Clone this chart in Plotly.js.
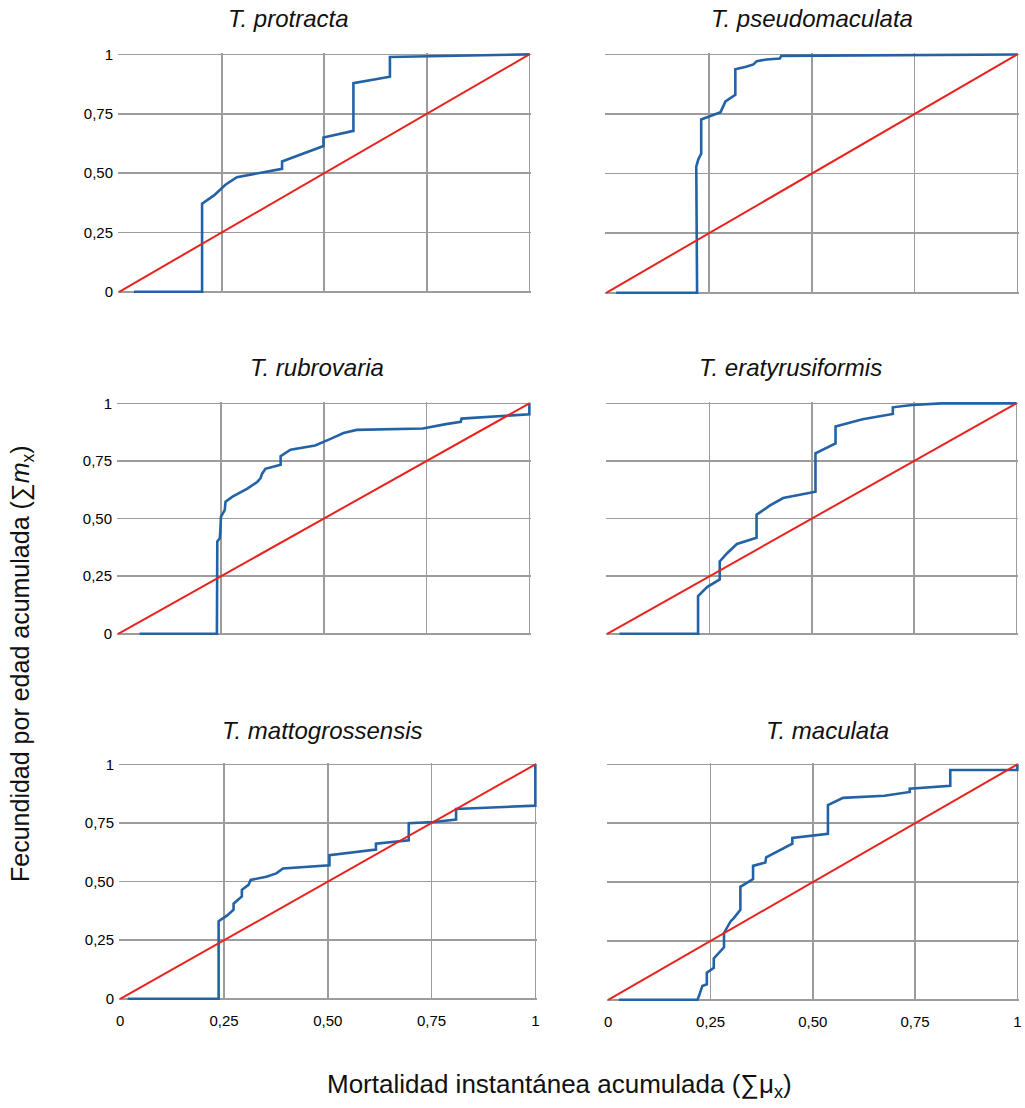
<!DOCTYPE html>
<html>
<head>
<meta charset="utf-8">
<script src="https://cdn.plot.ly/plotly-3.0.1.min.js"></script>
<style>
html,body{margin:0;padding:0;background:#fff;}
#chart{width:1025px;height:1108px;}
</style>
</head>
<body>
<div id="chart"></div>
<script>
// ---- Data ----
const species = ['T. protracta', 'T. pseudomaculata', 'T. rubrovaria', 'T. eratyrusiformis', 'T. mattogrossensis', 'T. maculata'];

const xProtracta = [0.036, 0.202, 0.202, 0.231, 0.259, 0.287, 0.397, 0.397, 0.498, 0.498, 0.571, 0.571, 0.660, 0.660, 1.0];
const yProtracta = [0, 0, 0.371, 0.406, 0.451, 0.483, 0.518, 0.549, 0.614, 0.650, 0.678, 0.879, 0.906, 0.989, 1.0];

const xPseudomaculata = [0.024, 0.221, 0.219, 0.224, 0.231, 0.231, 0.278, 0.290, 0.314, 0.314, 0.340, 0.358, 0.366, 0.390, 0.422, 0.426, 1.0];
const yPseudomaculata = [0, 0, 0.529, 0.560, 0.584, 0.727, 0.758, 0.803, 0.831, 0.938, 0.948, 0.958, 0.972, 0.979, 0.983, 0.994, 1.0];

const xRubrovaria = [0.052, 0.240, 0.241, 0.247, 0.248, 0.250, 0.259, 0.261, 0.278, 0.314, 0.338, 0.346, 0.350, 0.358, 0.395, 0.395, 0.419, 0.479, 0.515, 0.548, 0.580, 0.741, 0.797, 0.833, 0.835, 0.998, 1.0, 1.0];
const yRubrovaria = [0, 0, 0.401, 0.415, 0.437, 0.509, 0.537, 0.573, 0.595, 0.630, 0.659, 0.675, 0.695, 0.716, 0.734, 0.771, 0.799, 0.817, 0.845, 0.871, 0.885, 0.891, 0.910, 0.920, 0.934, 0.953, 0.953, 1.0];

const xEratyrusiformis = [0.030, 0.222, 0.222, 0.236, 0.244, 0.275, 0.275, 0.293, 0.317, 0.365, 0.365, 0.398, 0.430, 0.509, 0.509, 0.558, 0.558, 0.624, 0.698, 0.698, 0.745, 0.818, 1.0];
const yEratyrusiformis = [0, 0, 0.164, 0.190, 0.203, 0.236, 0.314, 0.350, 0.390, 0.417, 0.517, 0.557, 0.589, 0.617, 0.783, 0.826, 0.900, 0.931, 0.954, 0.983, 0.993, 1.0, 1.0];

const xMattogrossensis = [0.018, 0.237, 0.237, 0.257, 0.273, 0.273, 0.293, 0.293, 0.309, 0.314, 0.352, 0.376, 0.392, 0.504, 0.504, 0.616, 0.616, 0.695, 0.695, 0.755, 0.809, 0.809, 1.0, 1.0];
const yMattogrossensis = [0, 0, 0.331, 0.355, 0.380, 0.406, 0.437, 0.465, 0.486, 0.507, 0.521, 0.535, 0.556, 0.570, 0.613, 0.637, 0.662, 0.676, 0.749, 0.754, 0.765, 0.810, 0.824, 1.0];

const xMaculata = [0.026, 0.218, 0.222, 0.230, 0.241, 0.241, 0.258, 0.258, 0.283, 0.283, 0.299, 0.307, 0.323, 0.323, 0.354, 0.354, 0.384, 0.386, 0.450, 0.450, 0.537, 0.537, 0.574, 0.675, 0.737, 0.737, 0.836, 0.836, 1.0, 1.0];
const yMaculata = [0, 0, 0.017, 0.059, 0.066, 0.115, 0.136, 0.176, 0.223, 0.284, 0.333, 0.347, 0.382, 0.480, 0.513, 0.569, 0.583, 0.605, 0.663, 0.688, 0.705, 0.827, 0.858, 0.867, 0.883, 0.897, 0.909, 0.976, 0.976, 1.0];

const diagX = [0, 1];
const diagY = [0, 1];

const tickVals = [0, 0.25, 0.5, 0.75, 1];
const tickText = ['0', '0,25', '0,50', '0,75', '1'];

const seriesX = [xProtracta, xPseudomaculata, xRubrovaria, xEratyrusiformis, xMattogrossensis, xMaculata];
const seriesY = [yProtracta, yPseudomaculata, yRubrovaria, yEratyrusiformis, yMattogrossensis, yMaculata];

// ---- Layout geometry (pixels in a 1025x1108 page) ----
const W = 1025, H = 1108;
const panels = [
  {x0:118, x1:531, y0:53,  y1:293, showY:true,  showX:false, title:288},
  {x0:605, x1:1019,y0:53,  y1:294, showY:false, showX:false, title:812},
  {x0:117, x1:531, y0:402, y1:635, showY:true,  showX:false, title:317},
  {x0:606, x1:1018,y0:402, y1:635, showY:false, showX:false, title:790},
  {x0:119, x1:537, y0:763, y1:1000,showY:true,  showX:true,  title:322},
  {x0:607, x1:1019,y0:763, y1:1001,showY:false, showX:true,  title:827}
];
const titleY = [18, 18, 367, 367, 730, 730];

const blue = '#2462a6';
const red = '#e8231e';
const grid = '#9c9c9c';
const font = 'Liberation Sans, Arial, sans-serif';

const traces = [];
const layout = {
  width: W, height: H,
  margin: {l:0, r:0, t:0, b:0},
  paper_bgcolor: '#ffffff',
  plot_bgcolor: '#ffffff',
  showlegend: false,
  font: {family: font, color: '#111111'},
  annotations: []
};

panels.forEach((p, i) => {
  const s = i === 0 ? '' : String(i + 1);
  traces.push({
    x: seriesX[i], y: seriesY[i], type: 'scatter', mode: 'lines',
    line: {color: blue, width: 2.6},
    xaxis: 'x' + s, yaxis: 'y' + s, hoverinfo: 'skip'
  });
  traces.push({
    x: diagX, y: diagY, type: 'scatter', mode: 'lines',
    line: {color: red, width: 2},
    xaxis: 'x' + s, yaxis: 'y' + s, hoverinfo: 'skip'
  });
  layout['xaxis' + s] = {
    domain: [p.x0 / W, p.x1 / W],
    anchor: 'y' + s,
    range: [-0.003, 1.004],
    tickvals: tickVals, ticktext: tickText,
    showticklabels: p.showX,
    tickfont: {size: 15, family: font, color: '#000'},
    ticklabelstandoff: 10,
    ticks: '',
    showgrid: true, gridcolor: grid, gridwidth: 1.6,
    zeroline: true, zerolinecolor: 'rgba(0,0,0,0)',
    showline: false, fixedrange: true
  };
  layout['yaxis' + s] = {
    domain: [1 - p.y1 / H, 1 - p.y0 / H],
    anchor: 'x' + s,
    range: [-0.005, 1.006],
    tickvals: tickVals, ticktext: tickText,
    showticklabels: p.showY,
    tickfont: {size: 15, family: font, color: '#000'},
    ticklabelstandoff: 4,
    ticks: '',
    showgrid: true, gridcolor: grid, gridwidth: 1.6,
    zeroline: true, zerolinecolor: grid, zerolinewidth: 1.6,
    showline: false, fixedrange: true
  };
  layout.annotations.push({
    text: '<i>' + species[i] + '</i>',
    xref: 'paper', yref: 'paper',
    x: p.title / W, y: 1 - titleY[i] / H,
    xanchor: 'center', yanchor: 'middle',
    showarrow: false,
    font: {size: 24, family: font, color: '#111'}
  });
});

layout.annotations.push({
  text: 'Mortalidad instantánea acumulada (∑μ<sub>x</sub>)',
  xref: 'paper', yref: 'paper',
  x: 559 / W, y: 1 - 1085 / H,
  xanchor: 'center', yanchor: 'middle', showarrow: false,
  font: {size: 26, family: font, color: '#111'}
});
layout.annotations.push({
  text: 'Fecundidad por edad acumulada (∑<i>m</i><sub>x</sub>)',
  xref: 'paper', yref: 'paper',
  x: 22 / W, y: 1 - 664 / H,
  xanchor: 'center', yanchor: 'middle', showarrow: false,
  textangle: -90,
  font: {size: 25, family: font, color: '#111'}
});

Plotly.newPlot('chart', traces, layout, {displayModeBar: false, staticPlot: true});
</script>
</body>
</html>
